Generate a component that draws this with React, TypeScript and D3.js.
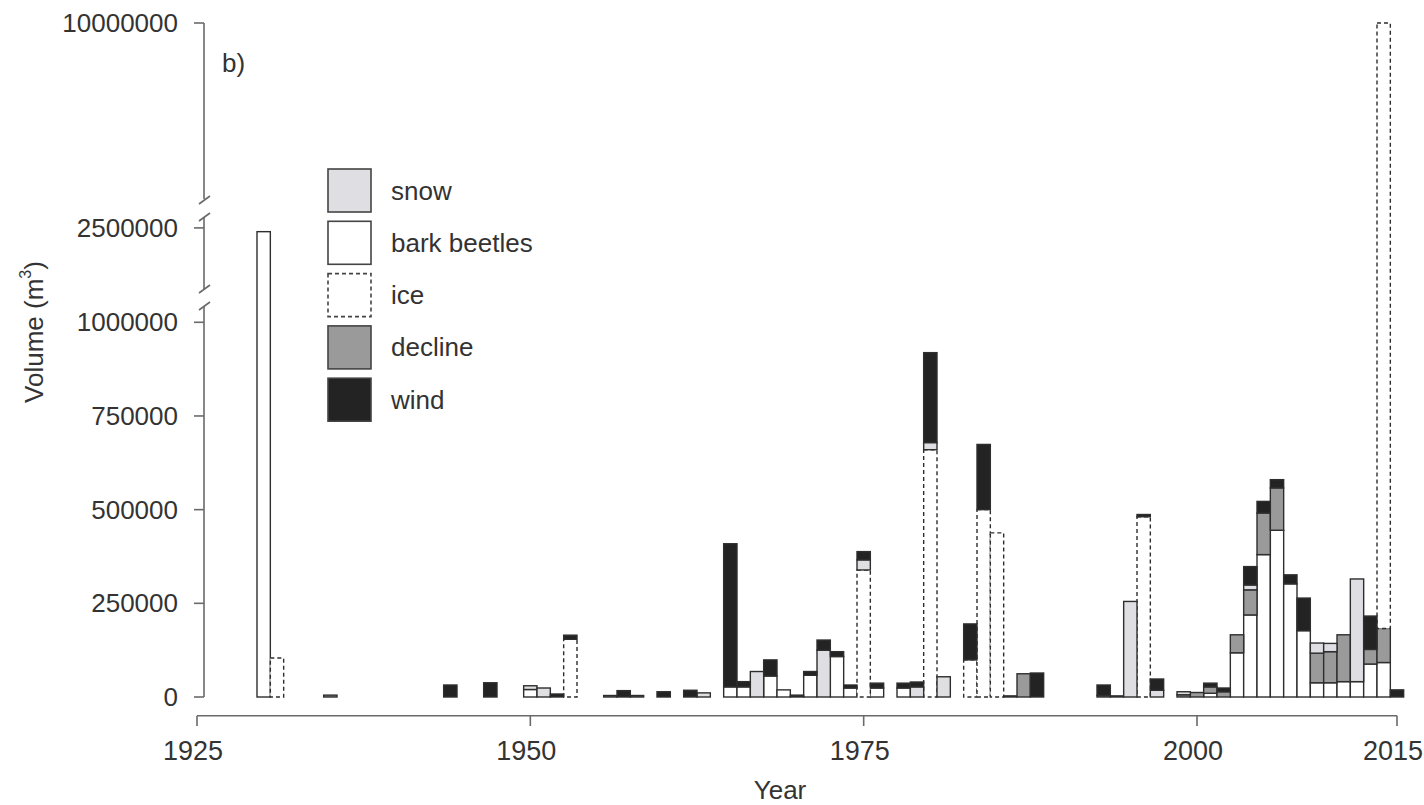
import React from "react";
import * as d3 from "d3";

// ---- data (year, m³) ----
const barkBeetles: [number, number][] = [
  [1930, 2490000], [1950, 20000], [1965, 27000], [1966, 27000], [1968, 56000], [1969, 19000],
  [1971, 58000], [1973, 108000], [1974, 24000], [1976, 24000], [1978, 24000], [2001, 10000],
  [2003, 118000], [2004, 219000], [2005, 380000], [2006, 445000], [2007, 302000], [2008, 177000],
  [2009, 38000], [2010, 38000], [2011, 41000], [2012, 41000], [2013, 88000], [2014, 92000],
];
const decline: [number, number][] = [
  [1935, 5000], [1958, 4000], [1986, 3000], [1987, 62000], [1994, 3000], [1999, 6000],
  [2000, 12000], [2001, 17000], [2002, 14000], [2003, 48000], [2004, 67000], [2005, 111000],
  [2006, 113000], [2009, 79000], [2010, 83000], [2011, 125000], [2013, 39000], [2014, 91000],
];
const ice: [number, number][] = [
  [1931, 104000], [1953, 154000], [1975, 339000], [1980, 660000], [1983, 99000],
  [1984, 500000], [1985, 438000], [1996, 481000], [2014, 9817000],
];
const snow: [number, number][] = [
  [1950, 10000], [1951, 24000], [1956, 4000], [1963, 11000], [1967, 68000], [1972, 125000],
  [1975, 27000], [1979, 27000], [1980, 19000], [1981, 54000], [1993, 4000], [1995, 255000],
  [1997, 18000], [1999, 8000], [2004, 13000], [2009, 27000], [2010, 22000], [2012, 274000],
];
const wind: [number, number][] = [
  [1944, 32000], [1947, 38000], [1952, 8000], [1953, 11000], [1957, 17000], [1960, 14000],
  [1962, 18000], [1965, 382000], [1966, 14000], [1968, 43000], [1970, 5000], [1971, 10000],
  [1972, 27000], [1973, 13000], [1974, 8000], [1975, 22000], [1976, 13000], [1978, 13000],
  [1979, 13000], [1980, 240000], [1983, 96000], [1984, 174000], [1988, 64000], [1993, 28000],
  [1996, 6000], [1997, 30000], [2001, 10000], [2002, 10000], [2004, 49000], [2005, 31000],
  [2006, 22000], [2007, 24000], [2008, 87000], [2013, 89000], [2015, 19000],
];

const xTicks = [1925, 1950, 1975, 2000, 2015];
const yTicks = [0, 250000, 500000, 750000, 1000000, 2500000, 10000000];
const legendOrder = ["snow", "bark beetles", "ice", "decline", "wind"];
const stackOrder = ["bark beetles", "decline", "ice", "snow", "wind"];

const seriesMap: Record<string, [number, number][]> = {
  "bark beetles": barkBeetles,
  decline,
  ice,
  snow,
  wind,
};

const styles: Record<string, { fill: string; dash?: string }> = {
  snow: { fill: "#dedee3" },
  "bark beetles": { fill: "#ffffff" },
  ice: { fill: "#ffffff", dash: "4,3" },
  decline: { fill: "#9a9a9a" },
  wind: { fill: "#232323" },
};

const FONT = "'Liberation Sans', Arial, Helvetica, sans-serif";

export default function App() {
  const allYears = Array.from(
    new Set(Object.values(seriesMap).flatMap((s) => s.map((d) => d[0])))
  ).sort((a, b) => a - b);
  const rows = allYears.map((yr) => {
    const r: any = { year: yr };
    stackOrder.forEach((k) => {
      const f = seriesMap[k].find((d) => d[0] === yr);
      r[k] = f ? f[1] : 0;
    });
    return r;
  });
  const stacked = d3.stack<any>().keys(stackOrder)(rows);

  const x = d3.scaleLinear().domain([1925, 2015]).range([197, 1397]);
  const y = d3
    .scaleLinear()
    .domain([0, 1040000, 2343000, 2521000, 2600000, 10000000])
    .range([697, 307.3, 287, 220, 197, 23]);

  const axisColor = "#6a6a6a";
  const textColor = "#333";
  const axX = 204;

  return (
    <svg
      width={1424}
      height={805}
      style={{ position: "absolute", left: 0, top: 0, background: "#fff" }}
      fontFamily={FONT}
    >
      {/* bars */}
      {stacked.map((layer) => {
        const st = styles[layer.key];
        return (
          <g key={layer.key}>
            {layer.map((d, i) => {
              const v = d[1] - d[0];
              if (v <= 0) return null;
              const yr = rows[i].year;
              const x0 = x(yr - 0.5);
              const x1 = x(yr + 0.5);
              const yTop = y(d[1]);
              const yBot = y(d[0]);
              return (
                <rect
                  key={yr}
                  x={x0}
                  y={yTop}
                  width={x1 - x0}
                  height={Math.max(yBot - yTop, 0.5)}
                  fill={st.fill}
                  stroke="#2e2e2e"
                  strokeWidth={1.4}
                  strokeDasharray={st.dash}
                />
              );
            })}
          </g>
        );
      })}

      {/* y axis segments */}
      <g stroke={axisColor} strokeWidth={1.6} fill="none">
        <line x1={axX} x2={axX} y1={y(10000000)} y2={199} />
        <line x1={axX} x2={axX} y1={217} y2={289} />
        <line x1={axX} x2={axX} y1={306} y2={y(0)} />
        <line x1={199} x2={210} y1={204} y2={196} />
        <line x1={199} x2={210} y1={221} y2={213} />
        <line x1={199} x2={210} y1={293} y2={285} />
        <line x1={199} x2={210} y1={310} y2={302} />
        {yTicks.map((t) => (
          <line key={t} x1={194} x2={axX} y1={y(t)} y2={y(t)} />
        ))}
      </g>
      {yTicks.map((t) => (
        <text
          key={t}
          x={178}
          y={y(t)}
          textAnchor="end"
          dominantBaseline="central"
          fontSize={26}
          fill={textColor}
        >
          {t}
        </text>
      ))}
      <text
        transform={`translate(34,332) rotate(-90)`}
        textAnchor="middle"
        dominantBaseline="central"
        fontSize={26}
        fill={textColor}
      >
        Volume (m<tspan dy={-9} fontSize={16}>3</tspan>
        <tspan dy={9}>)</tspan>
      </text>

      {/* x axis */}
      <g stroke={axisColor} strokeWidth={1.6}>
        <line x1={x(1925)} x2={x(2015)} y1={715.7} y2={715.7} />
        {xTicks.map((t) => (
          <line key={t} x1={x(t)} x2={x(t)} y1={715.7} y2={726} />
        ))}
      </g>
      {xTicks.map((t) => (
        <text
          key={t}
          x={x(t) - 4}
          y={760}
          textAnchor="middle"
          fontSize={27}
          fill={textColor}
        >
          {t}
        </text>
      ))}
      <text x={780} y={799} textAnchor="middle" fontSize={26} fill={textColor}>
        Year
      </text>

      <text x={222} y={72} fontSize={26} fill={textColor}>
        b)
      </text>

      {/* legend */}
      {legendOrder.map((k, i) => {
        const st = styles[k];
        const yy = 169 + i * 52.3;
        return (
          <g key={k}>
            <rect
              x={328}
              y={yy}
              width={43}
              height={43}
              fill={st.fill}
              stroke="#444"
              strokeWidth={1.6}
              strokeDasharray={st.dash}
            />
            <text
              x={391}
              y={yy + 21.5}
              dominantBaseline="central"
              fontSize={26}
              fill={textColor}
            >
              {k}
            </text>
          </g>
        );
      })}
    </svg>
  );
}
